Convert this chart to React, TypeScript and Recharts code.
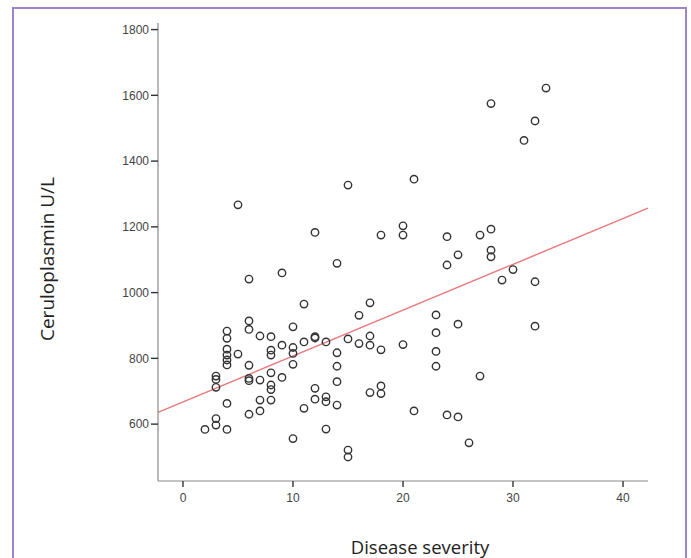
import React from "react";
import { ScatterChart, Scatter, XAxis, YAxis, ReferenceLine } from "recharts";

const severity = [
  2, 3, 3, 3, 3, 3, 4, 4, 4, 4, 4, 4, 4, 4, 5, 5, 6, 6, 6, 6, 6, 6, 6, 7, 7, 7, 7,
  8, 8, 8, 8, 8, 8, 8, 9, 9, 9, 10, 10, 10, 10, 10, 11, 11, 11, 12, 12, 12, 12, 12,
  13, 13, 13, 13, 14, 14, 14, 14, 14, 15, 15, 15, 15, 16, 16, 17, 17, 17, 17,
  18, 18, 18, 18, 20, 20, 20, 21, 21, 23, 23, 23, 23, 24, 24, 24, 25, 25, 25, 26,
  27, 27, 28, 28, 28, 28, 29, 30, 31, 32, 32, 32, 33,
];
const ceruloplasmin = [
  584, 746, 736, 712, 617, 597, 883, 861, 828, 810, 795, 780, 663, 584, 1267, 813,
  1041, 914, 888, 779, 739, 732, 630, 868, 734, 673, 640, 866, 825, 810, 756, 719,
  705, 673, 1060, 840, 742, 896, 833, 815, 782, 556, 965, 850, 648, 1183, 866, 862,
  709, 676, 850, 683, 668, 585, 1089, 817, 776, 729, 658, 1327, 859, 521, 500, 931,
  845, 969, 868, 840, 696, 1175, 826, 716, 693, 1203, 1175, 842, 1345, 640, 932,
  878, 821, 776, 1170, 1084, 628, 1115, 904, 622, 543, 1175, 746, 1575, 1193, 1129,
  1109, 1038, 1070, 1463, 1522, 1033, 898, 1622,
];
const xTicks = [0, 10, 20, 30, 40];
const yTicks = [600, 800, 1000, 1200, 1400, 1600, 1800];
const fitX = [-2.27, 42.27];
const fitY = [636, 1257];

const points = severity.map((s, i) => ({ x: s, y: ceruloplasmin[i] }));

const Ring = (props: any) => {
  const { cx, cy } = props;
  if (cx == null || cy == null) return null;
  return <circle cx={cx} cy={cy} r={3.7} fill="none" stroke="#333" strokeWidth={1.4} />;
};

export default function App() {
  return (
    <div style={{ position: "absolute", left: 0, top: 0, width: 691, height: 558, overflow: "hidden", background: "#fff" }}>
      <div
        style={{
          position: "absolute",
          left: 12,
          top: 7,
          width: 671,
          height: 600,
          borderLeft: "2px solid #9a86c8",
          borderTop: "2px solid #9a86c8",
          borderRight: "2px solid #9a86c8",
        }}
      />
      <div style={{ position: "absolute", left: 0, top: 0 }}>
        <ScatterChart width={691} height={558} margin={{ top: 23, left: 98, right: 43, bottom: 47 }}>
          <XAxis
            type="number"
            dataKey="x"
            domain={[-2.27, 42.27]}
            ticks={xTicks}
            allowDataOverflow
            height={30}
            tickSize={6}
            tickMargin={6}
            axisLine={{ stroke: "#8a8a8a", strokeWidth: 1.2 }}
            tickLine={{ stroke: "#333", strokeWidth: 1.4 }}
            tick={{ fill: "#444", fontSize: 12, fontFamily: "Liberation Sans, Arial, sans-serif" }}
          />
          <YAxis
            type="number"
            dataKey="y"
            domain={[427, 1820]}
            ticks={yTicks}
            allowDataOverflow
            width={60}
            tickSize={7}
            tickMargin={2}
            axisLine={{ stroke: "#8a8a8a", strokeWidth: 1.2 }}
            tickLine={{ stroke: "#333", strokeWidth: 1.4 }}
            tick={{ fill: "#444", fontSize: 12, fontFamily: "Liberation Sans, Arial, sans-serif" }}
          />
          <ReferenceLine
            segment={[
              { x: fitX[0], y: fitY[0] },
              { x: fitX[1], y: fitY[1] },
            ]}
            stroke="#e8787b"
            strokeWidth={1.4}
            ifOverflow="visible"
          />
          <Scatter data={points} shape={<Ring />} isAnimationActive={false} />
        </ScatterChart>
      </div>
      <div
        style={{
          position: "absolute",
          left: 47,
          top: 259,
          transform: "translate(-50%, -50%) rotate(-90deg)",
          whiteSpace: "nowrap",
          fontFamily: "'Open Sans', sans-serif",
          fontSize: 19,
          color: "#222",
        }}
      >
        Ceruloplasmin U/L
      </div>
      <div
        style={{
          position: "absolute",
          left: 420,
          top: 546,
          transform: "translate(-50%, -50%)",
          whiteSpace: "nowrap",
          fontFamily: "'Open Sans', sans-serif",
          fontSize: 18.5,
          color: "#222",
        }}
      >
        Disease severity
      </div>
    </div>
  );
}
